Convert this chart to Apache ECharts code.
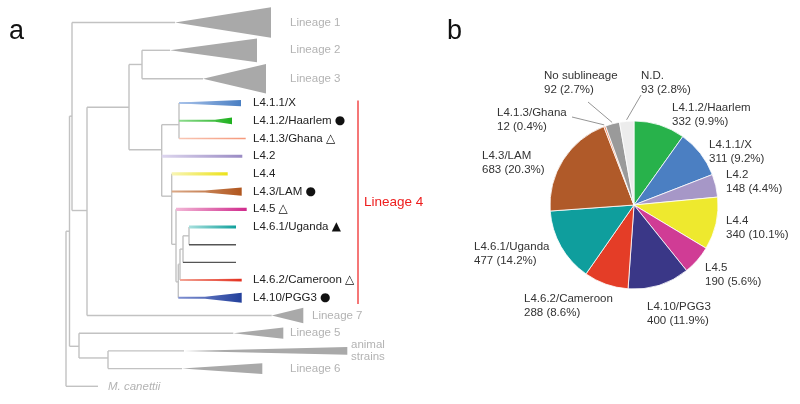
<!DOCTYPE html>
<html><head><meta charset="utf-8">
<script src="https://cdn.jsdelivr.net/npm/echarts@6/dist/echarts.min.js"></script>
<style>html,body{margin:0;padding:0;background:#fff}#c{width:800px;height:404px}</style>
</head><body><div id="c"></div>
<script>
// ================= Panel b: pie data =================
const pieNames = ['L4.1.2/Haarlem','L4.1.1/X','L4.2','L4.4','L4.5','L4.10/PGG3','L4.6.2/Cameroon','L4.6.1/Uganda','L4.3/LAM','L4.1.3/Ghana','No sublineage','N.D.'];
const pieValues = [332,311,148,340,190,400,288,477,683,12,92,93];

// ================= Panel a: tree data =================
// internal nodes: id, depth (branch distance), row, parent
const nodeIds    = ['root','A','A1','B','C','L23','L4','L41','E','F','J','H','G','K','L56','L6a'];
const nodeDepth  = [0,3.5,6,21,63,76,95.7,113,105.7,110,112.3,114,117,123,13,42];
const nodeRow    = [11.6,7.24,0.74,6.07,0.24,-2.18,2.64,1.22,5.26,7.98,10.1,9.1,8.25,7.5,13.74,14.4];
const nodeParent = [null,'root','A','A1','B','C','C','L4','L4','E','F','J','H','G','A','L56'];
// collapsed grey clades
const cladeNames  = ['Lineage 1','Lineage 2','Lineage 3','Lineage 7','Lineage 5','animal\nstrains','Lineage 6'];
const cladeParent = ['A1','L23','L23','B','L56','L6a','L6a'];
const cladeRow    = [-4.55,-2.98,-1.37,12,13,14,15];
const cladeApex   = [109,104,137,205.7,167.3,118,116];
const cladeEnd    = [205,191,200,237.3,217.3,281.3,196.3];
const cladeHalf   = [0.86,0.67,0.83,0.44,0.32,0.22,0.3];
// lineage 4 sublineages
const subNames  = ['L4.1.1/X','L4.1.2/Haarlem','L4.1.3/Ghana','L4.2','L4.4','L4.3/LAM','L4.5','L4.6.1/Uganda','','','L4.6.2/Cameroon','L4.10/PGG3'];
const subMarks  = ['','●','△','','','●','△','▲','','','△','●'];
const subParent = ['L41','L41','L41','L4','E','E','F','K','K','G','H','J'];
const subRow    = [0,1,2,3,4,5,6,7,8,9,10,11];
const subWedge  = [125,149,null,null,null,139,null,null,null,null,150,139];
const subEnd    = [175,166,179.7,176.3,161.7,175.7,180.7,170,170,170,175.7,175.7];
const subHalf   = [0.18,0.19,0,0,0,0.23,0,0,0,0,0.08,0.28];
// outgroup
const outName = 'M. canettii', outParent = 'root', outRow = 16, outEnd = 32;
// Lineage 4 bracket (rows spanned)
const l4Bracket = [-0.15, 11.35];

// ================= styles / layout (kept separate) =================
const FONT = "'Liberation Sans', Arial, Helvetica, sans-serif";
const pieColors = ['#28b24b','#4b7fc2','#a697c7','#eee92e','#d03c95','#3a3787','#e43d27','#0f9e9d','#b05a29','#f28a62','#9a9a9a','#ececec'];
const pieLabelPos = [[672,101],[709,138],[726,168],[726,214],[705,261],[647,300],[524,292],[474,240],[482,149],[497,106],[544,69],[641,69]];
const pieGuideAnchor = [null,null,null,null,null,null,null,null,null,[572,117],[588,102],[641,95]];
const PIE_C = [634,205], PIE_R = 84;
const subLine  = [1,1,0.8,1.5,1.6,1,1.6,1.6,0.7,0.7,1,1];
const subLight = ['#a9c3ea','#8fdc8f','#f9c6b4','#ddd6ee','#f8f5b4','#dcaa88','#f2b6d6','#a8e0de','#555','#555','#f3a596','#7f90d2'];
const subFull  = ['#4a7fc3','#1fb01f','#f5987a','#9a8bc4','#ece21a','#b0561e','#d02b8c','#0fa09b','#555','#555','#e4301f','#23409b'];
const cladeLabelCol = [224,224,224,246,224,285,224];
const subLabelCol = 187, outLabelCol = 42, bracketCol = 292, bracketTextCol = 298;
const ROWPX = 18;

// ================= derived geometry data =================
const nodeMap = {};
nodeIds.forEach((id,i)=>{ nodeMap[id] = {x:nodeDepth[i], y:nodeRow[i], kids:[]}; });
nodeIds.forEach((id,i)=>{ const p = nodeParent[i]; if (p) nodeMap[p].kids.push(nodeRow[i]); });
cladeParent.forEach((p,i)=> nodeMap[p].kids.push(cladeRow[i]));
subParent.forEach((p,i)=> nodeMap[p].kids.push(subRow[i]));
nodeMap[outParent].kids.push(outRow);

const edgeData = [];
nodeIds.forEach((id,i)=>{
  const n = nodeMap[id];
  const ys = n.kids; edgeData.push([n.x, Math.min(...ys), n.x, Math.max(...ys)]);
  const p = nodeParent[i]; if (p) edgeData.push([nodeMap[p].x, nodeRow[i], n.x, nodeRow[i]]);
});
cladeParent.forEach((p,i)=> edgeData.push([nodeMap[p].x, cladeRow[i], cladeApex[i], cladeRow[i]]));
edgeData.push([nodeMap[outParent].x, outRow, outEnd, outRow]);

const cladeData = cladeRow.map((r,i)=>[cladeApex[i], cladeEnd[i], r, cladeHalf[i]]);
const subData = subRow.map((r,i)=>[nodeMap[subParent[i]].x, subWedge[i]==null?subEnd[i]:subWedge[i], subEnd[i], r, subHalf[i], i]);

const labelData = [];
cladeNames.forEach((n,i)=> labelData.push([cladeLabelCol[i], cladeRow[i], 'g', n]));
subNames.forEach((n,i)=>{ if (n) labelData.push([subLabelCol, subRow[i], 'k', n + (subMarks[i] ? ' {s|' + subMarks[i] + '}' : '')]); });
labelData.push([outLabelCol, outRow, 'i', outName]);

const total = pieValues.reduce((a,b)=>a+b,0);
const cumBefore = pieValues.map((v,i)=> pieValues.slice(0,i).reduce((a,b)=>a+b,0));
function arcPoint(i, rr){
  const frac = (cumBefore[i] + pieValues[i]/2) / total;
  const ang = Math.PI/2 - frac*2*Math.PI;
  return [PIE_C[0] + rr*Math.cos(ang), PIE_C[1] - rr*Math.sin(ang)];
}

const chart = echarts.init(document.getElementById('c'), null, {renderer:'canvas'});

chart.setOption({
  animation:false,
  backgroundColor:'#fff',
  title:[
    {text:'a', left:9, top:18, padding:0, textStyle:{fontSize:27, fontWeight:'normal', color:'#111', fontFamily:FONT}},
    {text:'b', left:447, top:18, padding:0, textStyle:{fontSize:27, fontWeight:'normal', color:'#111', fontFamily:FONT}}
  ],
  grid:{left:66, top:5.7, width:334, height:ROWPX*22.5, containLabel:false},
  xAxis:{type:'value', min:0, max:334, show:false},
  yAxis:{type:'value', min:-5.5, max:17, inverse:true, show:false},
  series:[
    {type:'custom', silent:true, coordinateSystem:'cartesian2d', data:edgeData,
     renderItem:(params,api)=>{
       const a = api.coord([api.value(0),api.value(1)]), b = api.coord([api.value(2),api.value(3)]);
       return {type:'line', shape:{x1:a[0],y1:a[1],x2:b[0],y2:b[1]}, style:{stroke:'#c2c2c2', lineWidth:1.4}};
     }},
    {type:'custom', silent:true, coordinateSystem:'cartesian2d', data:cladeData,
     renderItem:(params,api)=>{
       const r = api.value(2), h = api.value(3);
       const p0 = api.coord([api.value(0), r]), p1 = api.coord([api.value(1), r-h]), p2 = api.coord([api.value(1), r+h]);
       return {type:'polygon', shape:{points:[p0,p1,p2]}, style:{fill:'#a9a9a9'}};
     }},
    {type:'custom', silent:true, coordinateSystem:'cartesian2d', data:subData,
     renderItem:(params,api)=>{
       const i = api.value(5), r = api.value(3);
       const p0 = api.coord([api.value(0), r]), pw = api.coord([api.value(1), r]), p1 = api.coord([api.value(2), r]);
       const lw = subLine[i];
       const hh = Math.max(lw, api.size([0, api.value(4)])[1]);
       const y = p0[1];
       const pts = [[p0[0],y-lw],[pw[0],y-lw],[p1[0],y-hh],[p1[0],y+hh],[pw[0],y+lw],[p0[0],y+lw]];
       return {type:'polygon', shape:{points:pts}, style:{fill:new echarts.graphic.LinearGradient(0,0,1,0,[{offset:0,color:subLight[i]},{offset:1,color:subFull[i]}])}};
     }},
    {type:'custom', silent:true, coordinateSystem:'cartesian2d', data:labelData,
     renderItem:(params,api)=>{
       const d = labelData[params.dataIndex];
       const p = api.coord([d[0], d[1]]);
       const kind = d[2];
       return {type:'text', x:p[0], y:p[1], style:{
         text:d[3], align:'left', verticalAlign:'middle',
         fill: kind==='k' ? '#222' : '#b3b3b3',
         fontSize: 11.5, lineHeight: 11.5, fontFamily:FONT, fontStyle: kind==='i' ? 'italic' : 'normal',
         rich:{s:{fontFamily:'DejaVu Sans', fontSize:12, fill:'#111'}}
       }};
     }},
    {type:'custom', silent:true, coordinateSystem:'cartesian2d', data:[[bracketCol, l4Bracket[0], l4Bracket[1]]],
     renderItem:(params,api)=>{
       const a = api.coord([api.value(0), api.value(1)]), b = api.coord([api.value(0), api.value(2)]);
       const t = api.coord([bracketTextCol, (api.value(1)+api.value(2))/2]);
       return {type:'group', children:[
         {type:'line', shape:{x1:a[0],y1:a[1],x2:b[0],y2:b[1]}, style:{stroke:'#f24a4a', lineWidth:1.5}},
         {type:'text', x:t[0], y:t[1], style:{text:'Lineage 4', fill:'#ee1d1d', fontSize:13.5, fontFamily:FONT, align:'left', verticalAlign:'middle'}}
       ]};
     }},
    {type:'pie', center:PIE_C, radius:[0,PIE_R], startAngle:90, clockwise:true, avoidLabelOverlap:false, silent:true,
     itemStyle:{borderColor:'#fff', borderWidth:0.8},
     label:{show:true, position:'outside', color:'#333', fontSize:11.5, lineHeight:14, fontFamily:FONT,
       formatter:(p)=> p.name + '\n' + p.value + ' (' + (p.value/total*100).toFixed(1) + '%)'},
     labelLine:{show:true, length:0, length2:0, smooth:false, lineStyle:{color:'#7a7a7a', width:0.8}},
     labelLayout:(params)=>{
       const i = params.dataIndex, q = pieLabelPos[i];
       const o = {x:q[0], y:q[1], align:'left', verticalAlign:'top', hideOverlap:false};
       if (pieGuideAnchor[i]) o.labelLinePoints = [arcPoint(i, PIE_R+1.5), pieGuideAnchor[i]];
       return o;
     },
     data: pieNames.map((n,i)=>({name:n, value:pieValues[i], itemStyle:{color:pieColors[i]}, labelLine:{show:!!pieGuideAnchor[i]}}))
    }
  ]
});
</script></body></html>
